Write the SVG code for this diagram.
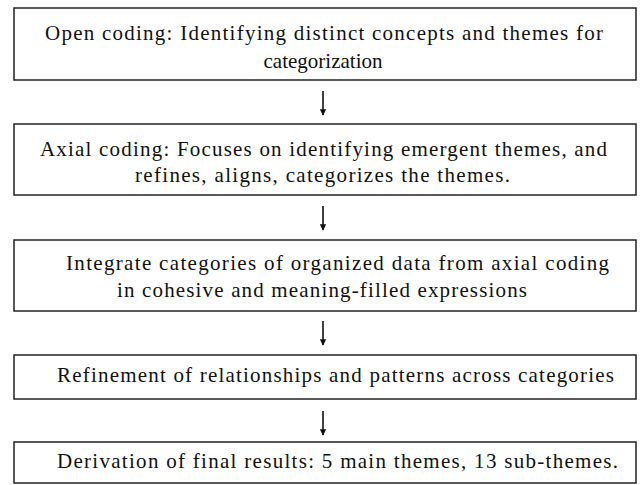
<svg xmlns="http://www.w3.org/2000/svg" width="643" height="485" viewBox="0 0 643 485">
<style>
.box{fill:#fff;stroke:#222;stroke-width:1.5}
.t{font-family:'Liberation Serif','Times New Roman',Times,'DejaVu Serif',serif;font-size:21px;fill:#111}
.c{stroke:#111;stroke-width:1.6;fill:none}
</style>
<defs>
<marker id="ah" viewBox="0 0 10 10" refX="9" refY="5" markerWidth="4" markerHeight="4.5" orient="auto" markerUnits="strokeWidth">
<path d="M0,0 L10,5 L0,10 z" fill="#111"/>
</marker>
</defs>
<rect width="643" height="485" fill="#fff"/>
<g id="n1">
<rect class="box" x="14" y="8" width="622" height="72"/>
<text class="t" x="45" y="40" textLength="558" lengthAdjust="spacing">Open coding: Identifying distinct concepts and themes for</text>
<text class="t" x="323" y="68" text-anchor="middle">categorization</text>
</g>
<g id="n2">
<rect class="box" x="14" y="124" width="622" height="71"/>
<text class="t" x="40" y="156" textLength="567" lengthAdjust="spacing">Axial coding: Focuses on identifying emergent themes, and</text>
<text class="t" x="135" y="182" textLength="375" lengthAdjust="spacing">refines, aligns, categorizes the themes.</text>
</g>
<g id="n3">
<rect class="box" x="14" y="240" width="622" height="71"/>
<text class="t" x="66" y="270" textLength="543" lengthAdjust="spacing">Integrate categories of organized data from axial coding</text>
<text class="t" x="117" y="297" textLength="410" lengthAdjust="spacing">in cohesive and meaning-filled expressions</text>
</g>
<g id="n4">
<rect class="box" x="14" y="355" width="622" height="44"/>
<text class="t" x="57" y="382" textLength="557" lengthAdjust="spacing">Refinement of relationships and patterns across categories</text>
</g>
<g id="n5">
<rect class="box" x="14" y="442" width="622" height="41"/>
<text class="t" x="57" y="468" textLength="561" lengthAdjust="spacing">Derivation of final results: 5 main themes, 13 sub-themes.</text>
</g>
<g id="connectors">
<line class="c" x1="323" y1="91" x2="323" y2="115" marker-end="url(#ah)"/>
<line class="c" x1="323" y1="206" x2="323" y2="230" marker-end="url(#ah)"/>
<line class="c" x1="323" y1="321" x2="323" y2="345" marker-end="url(#ah)"/>
<line class="c" x1="323" y1="411" x2="323" y2="435" marker-end="url(#ah)"/>
</g>
</svg>
